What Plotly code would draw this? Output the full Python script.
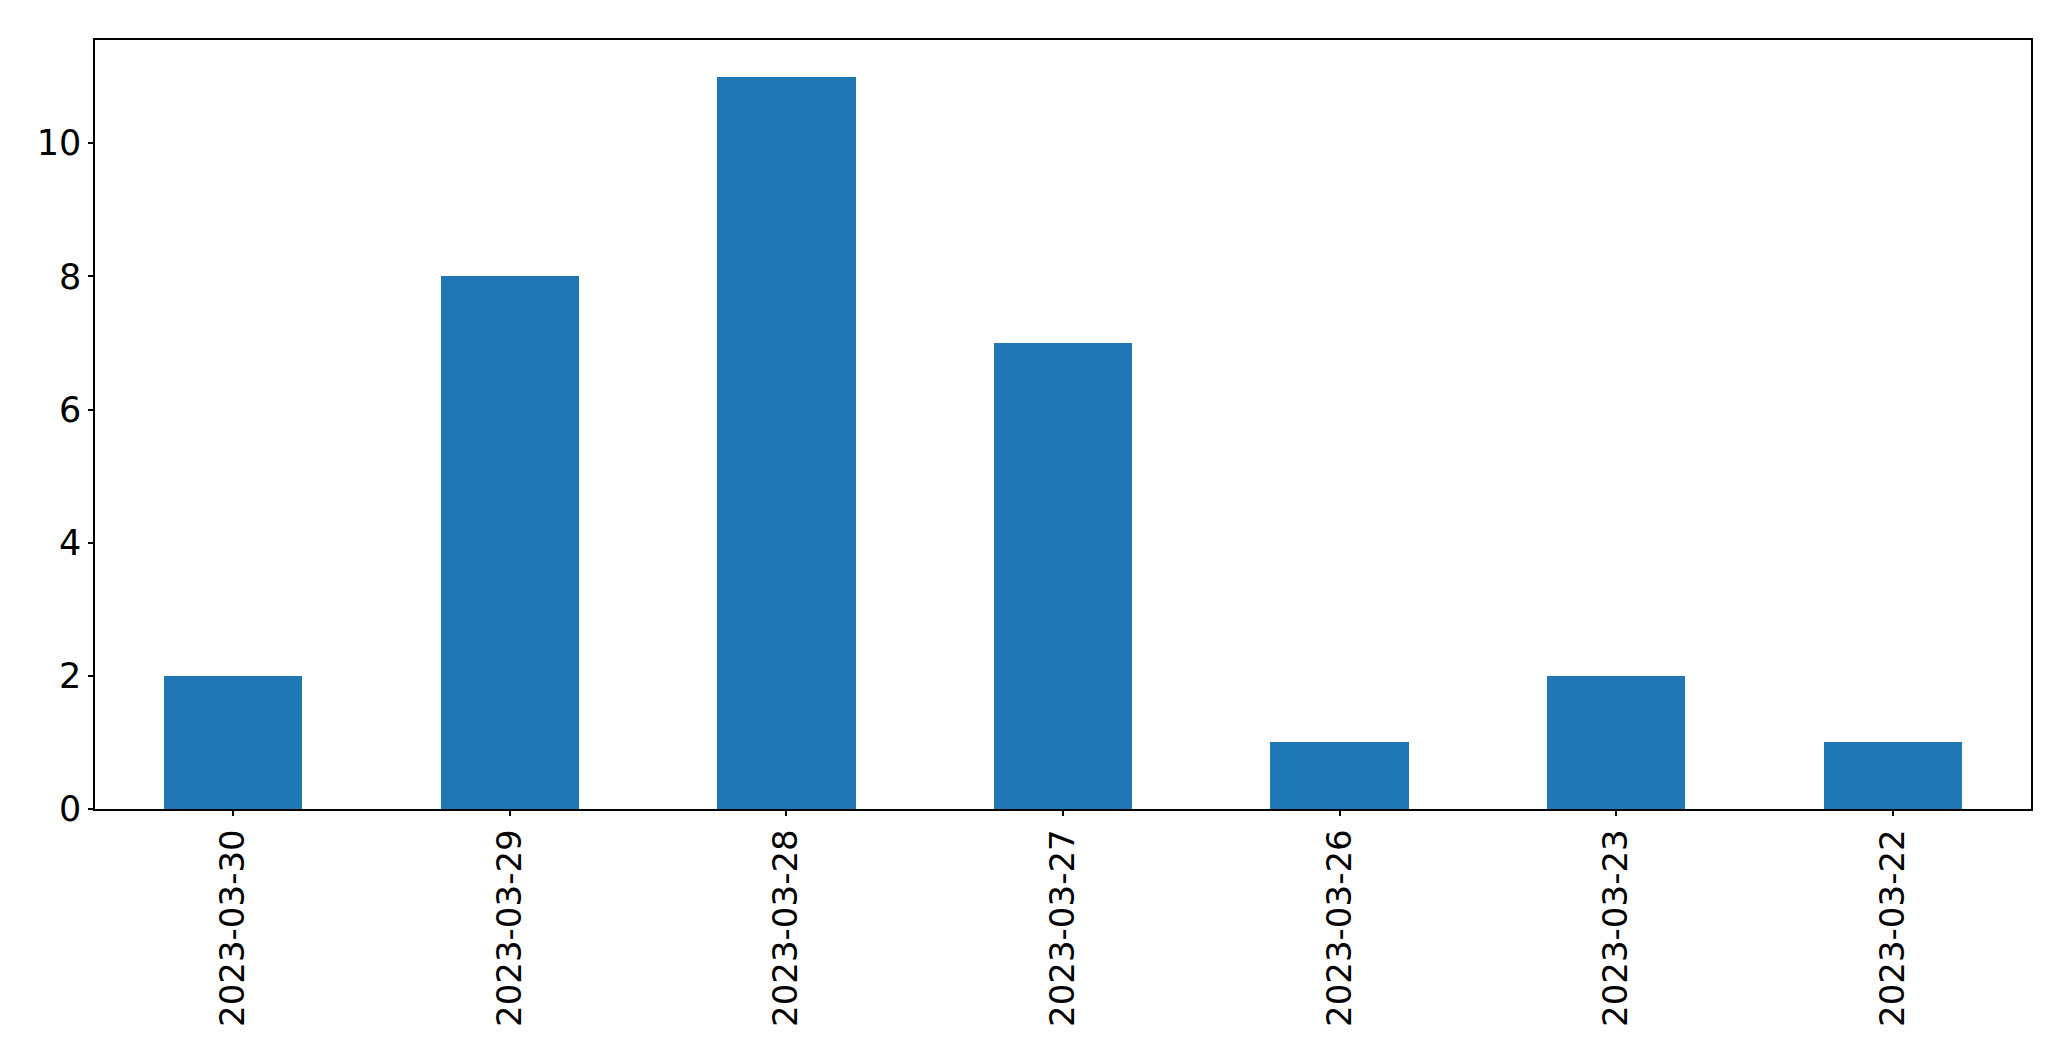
import plotly.graph_objects as go

dates = ["2023-03-30", "2023-03-29", "2023-03-28", "2023-03-27", "2023-03-26", "2023-03-23", "2023-03-22"]
counts = [2, 8, 11, 7, 1, 2, 1]
y_ticks = [0, 2, 4, 6, 8, 10]

fig = go.Figure(go.Bar(x=list(range(len(dates))), y=counts, width=0.5,
                       marker=dict(color="#1f77b4", line=dict(width=0))))

# page body has an 8px default margin, so compensate
OFF = 8
W, H = 2071 - OFF, 1061 - OFF
left, right, top, bottom = 94.5, 2031, 39.5, 809

fig.update_layout(
    width=W, height=H,
    margin=dict(l=left - OFF, r=W + OFF - right, t=top - OFF, b=H + OFF - bottom, pad=0),
    paper_bgcolor="white", plot_bgcolor="white",
    font=dict(family="DejaVu Sans", size=36, color="black"),
    showlegend=False, bargap=0,
)
fig.update_xaxes(
    range=[-0.5, len(dates) - 0.5], tickmode="array",
    tickvals=list(range(len(dates))), ticktext=dates, tickangle=-90,
    tickfont=dict(size=34),
    showline=True, linecolor="black", linewidth=1.5, mirror=True,
    ticks="outside", ticklen=5, tickwidth=1.5, tickcolor="black",
    showgrid=False, zeroline=False,
)
fig.update_yaxes(
    range=[0, 11.55], tickmode="array", tickvals=y_ticks,
    tickfont=dict(size=35),
    showline=True, linecolor="black", linewidth=1.5, mirror=True,
    ticks="outside", ticklen=5, tickwidth=1.5, tickcolor="black",
    showgrid=False, zeroline=False,
)
fig.write_html("out.html")
